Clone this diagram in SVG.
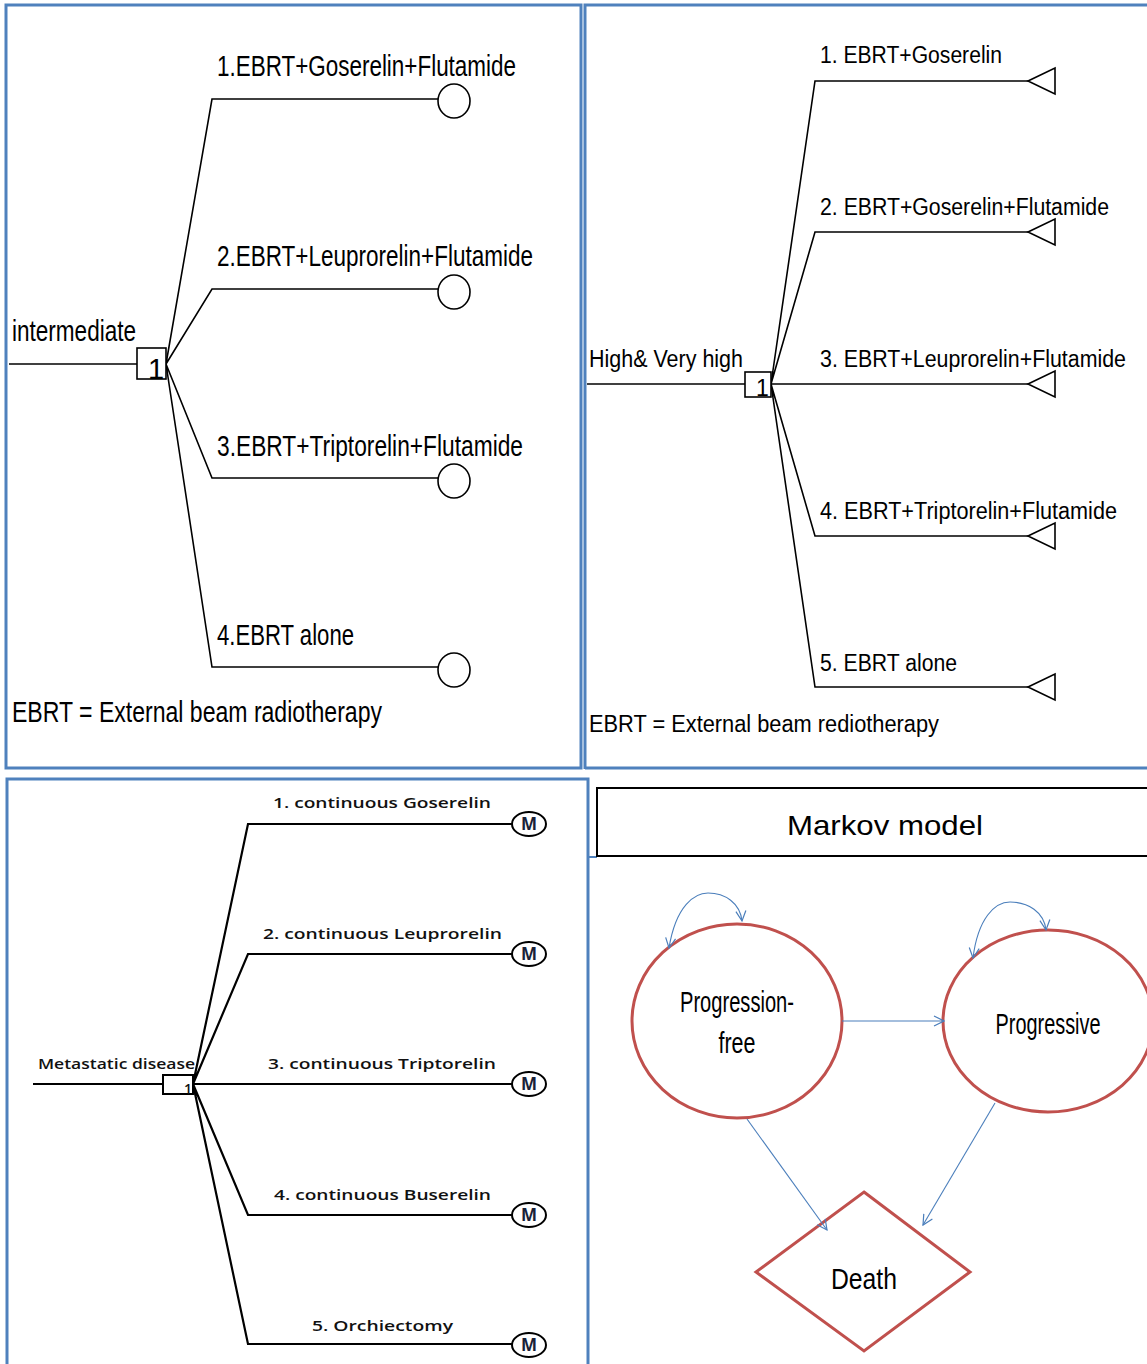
<svg xmlns="http://www.w3.org/2000/svg" width="1147" height="1364" viewBox="0 0 1147 1364">
<style>
.panel{fill:none;stroke:#4f81bd;stroke-width:3}
.ln{fill:none;stroke:#000;stroke-width:1.6}
.ln2{fill:none;stroke:#000;stroke-width:2.2}
.t1{font-family:"Liberation Sans",Arial,sans-serif;font-size:29px;fill:#000}
.t2{font-family:"Liberation Sans",Arial,sans-serif;font-size:23px;fill:#000}
.t3{font-family:"Open Sans","Liberation Sans",sans-serif;font-size:14px;fill:#111;font-weight:600}
.m{font-family:"Open Sans","Liberation Sans",sans-serif;font-size:17px;font-weight:bold;fill:#1a2238}
.st{fill:#fff;stroke:#c0504d;stroke-width:3}
.ar{fill:none;stroke:#4a7ebb;stroke-width:1.1}
.mk{font-family:"Liberation Sans",Arial,sans-serif;font-size:28px;fill:#000}
</style>
<defs>
<marker id="oa" viewBox="0 0 12 12" refX="11" refY="6" markerWidth="12" markerHeight="12" markerUnits="userSpaceOnUse" orient="auto-start-reverse">
<path d="M1,1 L11,6 L1,11" fill="none" stroke="#4a7ebb" stroke-width="1.2"/>
</marker>
</defs>
<rect width="1147" height="1364" fill="#fff"/>
<!-- panels -->
<g id="panels">
<rect class="panel" x="6" y="5" width="575" height="763"/>
<path class="panel" d="M585,769 V5 H1150 M585,768 H1150"/>
<path class="panel" d="M7,1370 V779 H588 V1370"/>
<path d="M588,779 V857 H597" fill="none" stroke="#4f81bd" stroke-width="2"/>
</g>
<!-- top-left tree -->
<g id="tl-connectors">
<path class="ln" d="M9,364 H137"/>
<path class="ln" d="M166,364 L212,99 H438 M166,364 L212,289 H438 M166,364 L212,478 H438 M166,364 L212,667 H438"/>
</g>
<g id="tl-decision">
<rect x="137" y="348" width="29" height="31" fill="#fff" stroke="#000" stroke-width="1.6"/>
<text class="t1" x="148" y="379" font-size="26">1</text>
</g>
<g id="tl-root"><text class="t1" x="12" y="341" textLength="124" lengthAdjust="spacingAndGlyphs">intermediate</text></g>
<g id="tl-n1"><ellipse cx="454" cy="101" rx="16" ry="17" fill="#fff" stroke="#000" stroke-width="1.6"/><text class="t1" x="217" y="76" textLength="299" lengthAdjust="spacingAndGlyphs">1.EBRT+Goserelin+Flutamide</text></g>
<g id="tl-n2"><ellipse cx="454" cy="292" rx="16" ry="17" fill="#fff" stroke="#000" stroke-width="1.6"/><text class="t1" x="217" y="266" textLength="316" lengthAdjust="spacingAndGlyphs">2.EBRT+Leuprorelin+Flutamide</text></g>
<g id="tl-n3"><ellipse cx="454" cy="481" rx="16" ry="17" fill="#fff" stroke="#000" stroke-width="1.6"/><text class="t1" x="217" y="456" textLength="306" lengthAdjust="spacingAndGlyphs">3.EBRT+Triptorelin+Flutamide</text></g>
<g id="tl-n4"><ellipse cx="454" cy="670" rx="16" ry="17" fill="#fff" stroke="#000" stroke-width="1.6"/><text class="t1" x="217" y="645" textLength="137" lengthAdjust="spacingAndGlyphs">4.EBRT alone</text></g>
<g id="tl-note"><text class="t1" x="12" y="722" textLength="370" lengthAdjust="spacingAndGlyphs">EBRT = External beam radiotherapy</text></g>
<!-- top-right tree -->
<g id="tr-connectors">
<path class="ln" d="M587,384 H745"/>
<path class="ln" d="M771,384 L815,81 H1028 M771,384 L815,232 H1028 M771,384 H1028 M771,384 L815,536 H1028 M771,384 L815,687 H1028"/>
</g>
<g id="tr-decision">
<rect x="745" y="372" width="26" height="25" fill="#fff" stroke="#000" stroke-width="1.6"/>
<text class="t2" x="756" y="396" font-size="22">1</text>
</g>
<g id="tr-root"><text class="t2" x="589" y="367" textLength="154" lengthAdjust="spacingAndGlyphs">High&amp; Very high</text></g>
<g id="tr-n1"><path class="ln" d="M1028,81 L1055,68 V94 Z" fill="#fff"/><text class="t2" x="820" y="63" textLength="182" lengthAdjust="spacingAndGlyphs">1. EBRT+Goserelin</text></g>
<g id="tr-n2"><path class="ln" d="M1028,232 L1055,219 V245 Z" fill="#fff"/><text class="t2" x="820" y="215" textLength="289" lengthAdjust="spacingAndGlyphs">2. EBRT+Goserelin+Flutamide</text></g>
<g id="tr-n3"><path class="ln" d="M1028,384 L1055,371 V397 Z" fill="#fff"/><text class="t2" x="820" y="367" textLength="306" lengthAdjust="spacingAndGlyphs">3. EBRT+Leuprorelin+Flutamide</text></g>
<g id="tr-n4"><path class="ln" d="M1028,536 L1055,523 V549 Z" fill="#fff"/><text class="t2" x="820" y="519" textLength="297" lengthAdjust="spacingAndGlyphs">4. EBRT+Triptorelin+Flutamide</text></g>
<g id="tr-n5"><path class="ln" d="M1028,687 L1055,674 V700 Z" fill="#fff"/><text class="t2" x="820" y="671" textLength="137" lengthAdjust="spacingAndGlyphs">5. EBRT alone</text></g>
<g id="tr-note"><text class="t2" x="589" y="732" textLength="350" lengthAdjust="spacingAndGlyphs">EBRT = External beam rediotherapy</text></g>
<!-- bottom-left tree -->
<g id="bl-connectors">
<path class="ln2" d="M33,1084 H163"/>
<path class="ln2" d="M193,1084 L248,824 H512 M193,1084 L248,954 H512 M193,1084 H512 M193,1084 L248,1215 H512 M193,1084 L248,1344 H512"/>
</g>
<g id="bl-decision">
<rect x="163" y="1075" width="30" height="19" fill="#fff" stroke="#000" stroke-width="2"/>
<text class="t3" x="184" y="1094" font-size="12" font-weight="normal">1</text>
</g>
<g id="bl-root"><text class="t3" x="38" y="1069" textLength="157" lengthAdjust="spacingAndGlyphs">Metastatic disease</text></g>
<g id="bl-n1"><ellipse cx="529" cy="824" rx="17" ry="12" fill="#fff" stroke="#000" stroke-width="2"/><text class="m" x="529" y="830" text-anchor="middle">M</text><text class="t3" x="273" y="808" textLength="218" lengthAdjust="spacingAndGlyphs">1. continuous Goserelin</text></g>
<g id="bl-n2"><ellipse cx="529" cy="954" rx="17" ry="12" fill="#fff" stroke="#000" stroke-width="2"/><text class="m" x="529" y="960" text-anchor="middle">M</text><text class="t3" x="263" y="939" textLength="239" lengthAdjust="spacingAndGlyphs">2. continuous Leuprorelin</text></g>
<g id="bl-n3"><ellipse cx="529" cy="1084" rx="17" ry="12" fill="#fff" stroke="#000" stroke-width="2"/><text class="m" x="529" y="1090" text-anchor="middle">M</text><text class="t3" x="268" y="1069" textLength="228" lengthAdjust="spacingAndGlyphs">3. continuous Triptorelin</text></g>
<g id="bl-n4"><ellipse cx="529" cy="1215" rx="17" ry="12" fill="#fff" stroke="#000" stroke-width="2"/><text class="m" x="529" y="1221" text-anchor="middle">M</text><text class="t3" x="274" y="1200" textLength="217" lengthAdjust="spacingAndGlyphs">4. continuous Buserelin</text></g>
<g id="bl-n5"><ellipse cx="529" cy="1345" rx="17" ry="12" fill="#fff" stroke="#000" stroke-width="2"/><text class="m" x="529" y="1351" text-anchor="middle">M</text><text class="t3" x="312" y="1331" textLength="141" lengthAdjust="spacingAndGlyphs">5. Orchiectomy</text></g>
<!-- Markov model -->
<g id="markov-title">
<rect x="597" y="788" width="560" height="68" fill="#fff" stroke="#000" stroke-width="2"/>
<text class="mk" x="885" y="835" text-anchor="middle" textLength="196" lengthAdjust="spacingAndGlyphs">Markov model</text>
</g>
<g id="state-pf">
<ellipse class="st" cx="737" cy="1021" rx="105" ry="97"/>
<text class="t1" x="737" y="1012" text-anchor="middle" textLength="114" lengthAdjust="spacingAndGlyphs">Progression-</text>
<text class="t1" x="737" y="1053" text-anchor="middle" textLength="37" lengthAdjust="spacingAndGlyphs">free</text>
</g>
<g id="state-prog">
<ellipse class="st" cx="1048" cy="1021" rx="105" ry="91"/>
<text class="t1" x="1048" y="1034" text-anchor="middle" textLength="105" lengthAdjust="spacingAndGlyphs">Progressive</text>
</g>
<g id="state-death">
<path class="st" d="M864,1192 L970,1272 L864,1351 L756,1272 Z"/>
<text class="t1" x="864" y="1289" text-anchor="middle" font-size="37" textLength="66" lengthAdjust="spacingAndGlyphs">Death</text>
</g>
<g id="markov-connectors">
<path class="ar" d="M669,948 C676,905 695,893 708,893 C725,893 740,903 742,921" marker-start="url(#oa)" marker-end="url(#oa)"/>
<path class="ar" d="M973,958 C978,918 995,902 1010,902 C1028,902 1044,912 1046,930" marker-start="url(#oa)" marker-end="url(#oa)"/>
<path class="ar" d="M842,1021 H944" marker-end="url(#oa)"/>
<path class="ar" d="M747,1119 L827,1230" marker-end="url(#oa)"/>
<path class="ar" d="M995,1103 L923,1225" marker-end="url(#oa)"/>
</g>
</svg>
